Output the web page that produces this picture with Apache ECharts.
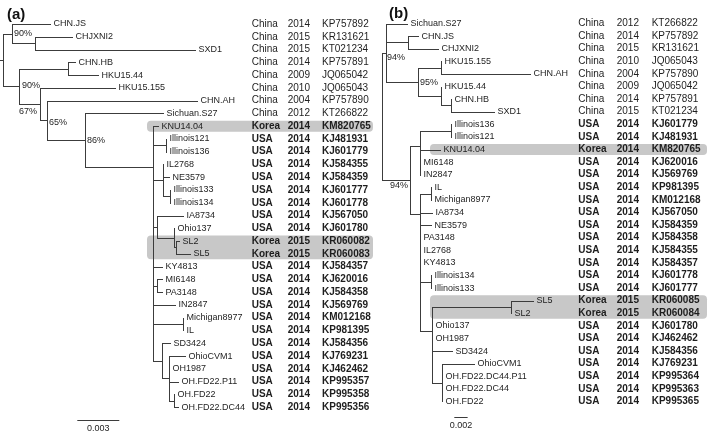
<!DOCTYPE html>
<html><head><meta charset="utf-8">
<script src="https://cdn.jsdelivr.net/npm/echarts@6/dist/echarts.min.js"></script>
<style>html,body{margin:0;padding:0;background:#fff}#c{width:709px;height:434px}</style>
</head><body><div id="c"></div>
<script>
// ---------- DATA ----------
const treeA = "((CHN.JS:0.00274,(CHJXNI2:0.00264,SXD1:0.01143):0.00166)90:0.00062,((CHN.HB:0.00048,HKU15.44:0.00214):0.00349,(HKU15.155:0.00536,(CHN.AH:0.01071,(Sichuan.S27:0.00559,(KNU14.04:0.00036,((Illinois121:0,Illinois136:0):0.00091,((IL2768:0,NE3579:0.00045,(Illinois133:0,Illinois134:0):0.00052):0.00067,(IA8734:0.00184,(Ohio137:0,(SL2:0.00021,SL5:0.001):0.00014):0.00119):0.00029,KY4813:0.0006,(MI6148:0.00038,PA3148:0.00038):0.00024,IN2847:0.00155,(Michigan8977:0,IL:0):0.00214,(SD3424:0.00057,(OhioCVM1:0.00112,OH1987:0,OH.FD22.P11:0.00062,(OH.FD22:0,OH.FD22.DC44:0.00029):0.00036):0.00054):0.0006):0):0):0.00488)86:0.00274)65:0.00048)67:0.00146)90:0.00118):0.00021;";
const countriesA = ["China","China","China","China","China","China","China","China","Korea","USA","USA","USA","USA","USA","USA","USA","USA","Korea","Korea","USA","USA","USA","USA","USA","USA","USA","USA","USA","USA","USA","USA"];
const yearsA = ["2014","2015","2015","2014","2009","2010","2004","2012","2014","2014","2014","2014","2014","2014","2014","2014","2014","2015","2015","2014","2014","2014","2014","2014","2014","2014","2014","2014","2014","2014","2014"];
const accessionsA = ["KP757892","KR131621","KT021234","KP757891","JQ065042","JQ065043","KP757890","KT266822","KM820765","KJ481931","KJ601779","KJ584355","KJ584359","KJ601777","KJ601778","KJ567050","KJ601780","KR060082","KR060083","KJ584357","KJ620016","KJ584358","KJ569769","KM012168","KP981395","KJ584356","KJ769231","KJ462462","KP995357","KP995358","KP995356"];
const highlightA = [["KNU14.04"],["SL2","SL5"]];
const scaleBarA = 0.003;

const treeB = "((Sichuan.S27:0.00315,(CHN.JS:0.0015,CHJXNI2:0.00459):0.0033,((HKU15.155:0,CHN.AH:0.01335):0.0034,(HKU15.44:0,(CHN.HB:0,SXD1:0.0065):0.0015):0.0034)95:0.00489)94:0.0006,(((Illinois136:0,Illinois121:0):0.00465,(KNU14.04:0.003,MI6148:0,IN2847:0):0):0.0015,((IL:0,Michigan8977:0):0.00165,(IA8734:0.00175,(NE3579:0.00165,(PA3148:0,IL2768:0,KY4813:0,(Illinois134:0,Illinois133:0):0.00165,((SL5:0.0033,SL2:0):0.0119,(Ohio137:0,OH1987:0,SD3424:0.003,(OhioCVM1:0.0048,OH.FD22.DC44.P11:0,OH.FD22.DC44:0,OH.FD22:0):0.0016):0):0.00175):0):0):0):0.0015)94:0.00425);";
const countriesB = ["China","China","China","China","China","China","China","China","USA","USA","Korea","USA","USA","USA","USA","USA","USA","USA","USA","USA","USA","USA","Korea","Korea","USA","USA","USA","USA","USA","USA","USA"];
const yearsB = ["2012","2014","2015","2010","2004","2009","2014","2015","2014","2014","2014","2014","2014","2014","2014","2014","2014","2014","2014","2014","2014","2014","2015","2015","2014","2014","2014","2014","2014","2014","2014"];
const accessionsB = ["KT266822","KP757892","KR131621","JQ065043","KP757890","JQ065042","KP757891","KT021234","KJ601779","KJ481931","KM820765","KJ620016","KJ569769","KP981395","KM012168","KJ567050","KJ584359","KJ584358","KJ584355","KJ584357","KJ601778","KJ601777","KR060085","KR060084","KJ601780","KJ462462","KJ584356","KJ769231","KP995364","KP995363","KP995365"];
const highlightB = [["KNU14.04"],["SL5","SL2"]];
const scaleBarB = 0.002;

// ---------- TREE HELPERS ----------
function parseNewick(s){
  let i=0;
  function node(){
    const n={children:[],name:'',len:0};
    if(s[i]==='('){
      i++; n.children.push(node());
      while(s[i]===','){i++; n.children.push(node());}
      i++;
    }
    let name='';
    while(i<s.length && ':,();'.indexOf(s[i])<0) name+=s[i++];
    n.name=name;
    if(s[i]===':'){i++; let l=''; while(i<s.length && ',();'.indexOf(s[i])<0) l+=s[i++]; n.len=parseFloat(l);}
    return n;
  }
  return node();
}
function layout(str){
  const root=parseNewick(str);
  const leaves=[], segs=[], inner=[];
  (function walk(n,px){
    n.x=px+n.len;
    if(!n.children.length){ leaves.push(n); n.y=leaves.length; }
    else{
      if(n.name) inner.push(n);
      n.children.forEach(c=>walk(c,n.x));
      const a=n.children[0].y, b=n.children[n.children.length-1].y;
      n.y=(a+b)/2;
      segs.push([n.x,a,n.x,b]);
    }
    if(n.len>0) segs.push([px,n.y,n.x,n.y]);
  })(root,0);
  return {leaves,segs,inner};
}
const LA=layout(treeA), LB=layout(treeB);

// ---------- STYLE / LAYOUT ----------
const LINE='#3c3c3c', TXT='#1e1e1e', BOX='#c8c8c8';
const FONT_TREE='9px "Liberation Sans", Arial, sans-serif';
const FONT_TAB='10px "Liberation Sans", Arial, sans-serif';
const FONT_TAB_B='bold 10px "Liberation Sans", Arial, sans-serif';
const P = {
  a:{left:0,top:11.23,rowH:12.77,width:350,pxPerUnit:42/0.003,cols:[251.7,287.7,322],box:[147,373],bar:[77.3,420,429],
     bs:[[2,0,'left'],[3,-0.5,'left'],[-3,7.5,'right'],[2,2.5,'left'],[2,0,'left']]},
  b:{left:381.7,top:10.9,rowH:12.6,width:327,pxPerUnit:13.33/0.002,cols:[578.3,616.7,651.7],box:[430,707],bar:[454.3,416.7,426],
     bs:[[1,4.5,'left'],[2,0.5,'left'],[-2,6,'right']]}
};
const snap=v=>Math.round(v)+0.5;

function panelSeries(k, idx, L, countries, years, accs, highlight, scaleBar){
  const cfg=P[k];
  const base={type:'custom',xAxisIndex:idx,yAxisIndex:idx,clip:false,silent:true,animation:false};
  const rowOf={}; L.leaves.forEach(l=>rowOf[l.name]=l.y);
  const boxes=highlight.map(g=>{const r=g.map(n=>rowOf[n]);return [Math.min(...r),Math.max(...r)];});
  return [
    Object.assign({},base,{data:boxes,renderItem:(p,api)=>{
      const y1=api.coord([0,api.value(0)])[1]-5.5, y2=api.coord([0,api.value(1)])[1]+5.5;
      return {type:'rect',shape:{x:cfg.box[0],y:y1,width:cfg.box[1]-cfg.box[0],height:y2-y1,r:4},style:{fill:BOX}};
    }}),
    Object.assign({},base,{data:L.segs,renderItem:(p,api)=>{
      const a=api.coord([api.value(0),api.value(1)]), b=api.coord([api.value(2),api.value(3)]);
      return {type:'line',shape:{x1:snap(a[0]),y1:snap(a[1]),x2:snap(b[0]),y2:snap(b[1])},style:{stroke:LINE,lineWidth:1,lineCap:'square'}};
    }}),
    Object.assign({},base,{data:L.leaves.map(l=>[l.x,l.y]),renderItem:(p,api)=>{
      const a=api.coord([api.value(0),api.value(1)]);
      return {type:'text',x:Math.round(a[0])+3.5,y:a[1],style:{text:L.leaves[p.dataIndex].name,fill:TXT,font:FONT_TREE,align:'left',verticalAlign:'middle'}};
    }}),
    Object.assign({},base,{data:L.inner.map(n=>[n.x,n.y]),renderItem:(p,api)=>{
      const a=api.coord([api.value(0),api.value(1)]); const o=cfg.bs[p.dataIndex]||[2,0,'left'];
      return {type:'text',x:Math.round(a[0])+o[0],y:a[1]+o[1],style:{text:L.inner[p.dataIndex].name+'%',fill:TXT,font:FONT_TREE,align:o[2],verticalAlign:'middle'}};
    }}),
    Object.assign({},base,{data:countries.map((c,i)=>[0,i+1]),renderItem:(p,api)=>{
      const y=api.coord([0,api.value(1)])[1]; const i=p.dataIndex;
      const f=countries[i]==='China'?FONT_TAB:FONT_TAB_B;
      return {type:'group',children:[countries[i],years[i],accs[i]].map((t,j)=>({type:'text',x:cfg.cols[j],y:y,style:{text:t,fill:TXT,font:f,align:'left',verticalAlign:'middle'}}))};
    }}),
    Object.assign({},base,{data:[[0,scaleBar]],renderItem:(p,api)=>{
      const L0=api.coord([api.value(0),1])[0], L1=api.coord([api.value(1),1])[0];
      const x0=cfg.bar[0], len=L1-L0;
      return {type:'group',children:[
        {type:'line',shape:{x1:x0,y1:snap(cfg.bar[1]),x2:x0+len,y2:snap(cfg.bar[1])},style:{stroke:LINE,lineWidth:1}},
        {type:'text',x:x0+len/2,y:cfg.bar[2],style:{text:String(api.value(1)),fill:TXT,font:FONT_TREE,align:'center',verticalAlign:'middle'}}
      ]};
    }})
  ];
}

const chart=echarts.init(document.getElementById('c'),null,{renderer:'canvas'});
chart.setOption({
  animation:false,
  backgroundColor:'#fff',
  title:[
    {text:'(a)',left:2,top:2,textStyle:{fontSize:15,fontWeight:'bold',color:'#111',fontFamily:'Liberation Sans, Arial'}},
    {text:'(b)',left:384,top:1,textStyle:{fontSize:15,fontWeight:'bold',color:'#111',fontFamily:'Liberation Sans, Arial'}}
  ],
  grid:[
    {left:P.a.left,top:P.a.top,width:P.a.width,height:P.a.rowH*33},
    {left:P.b.left,top:P.b.top,width:P.b.width,height:P.b.rowH*33}
  ],
  xAxis:[
    {gridIndex:0,type:'value',min:0,max:P.a.width/P.a.pxPerUnit,show:false},
    {gridIndex:1,type:'value',min:0,max:P.b.width/P.b.pxPerUnit,show:false}
  ],
  yAxis:[
    {gridIndex:0,type:'value',inverse:true,min:0,max:33,show:false},
    {gridIndex:1,type:'value',inverse:true,min:0,max:33,show:false}
  ],
  series:[].concat(
    panelSeries('a',0,LA,countriesA,yearsA,accessionsA,highlightA,scaleBarA),
    panelSeries('b',1,LB,countriesB,yearsB,accessionsB,highlightB,scaleBarB)
  )
});
</script></body></html>
